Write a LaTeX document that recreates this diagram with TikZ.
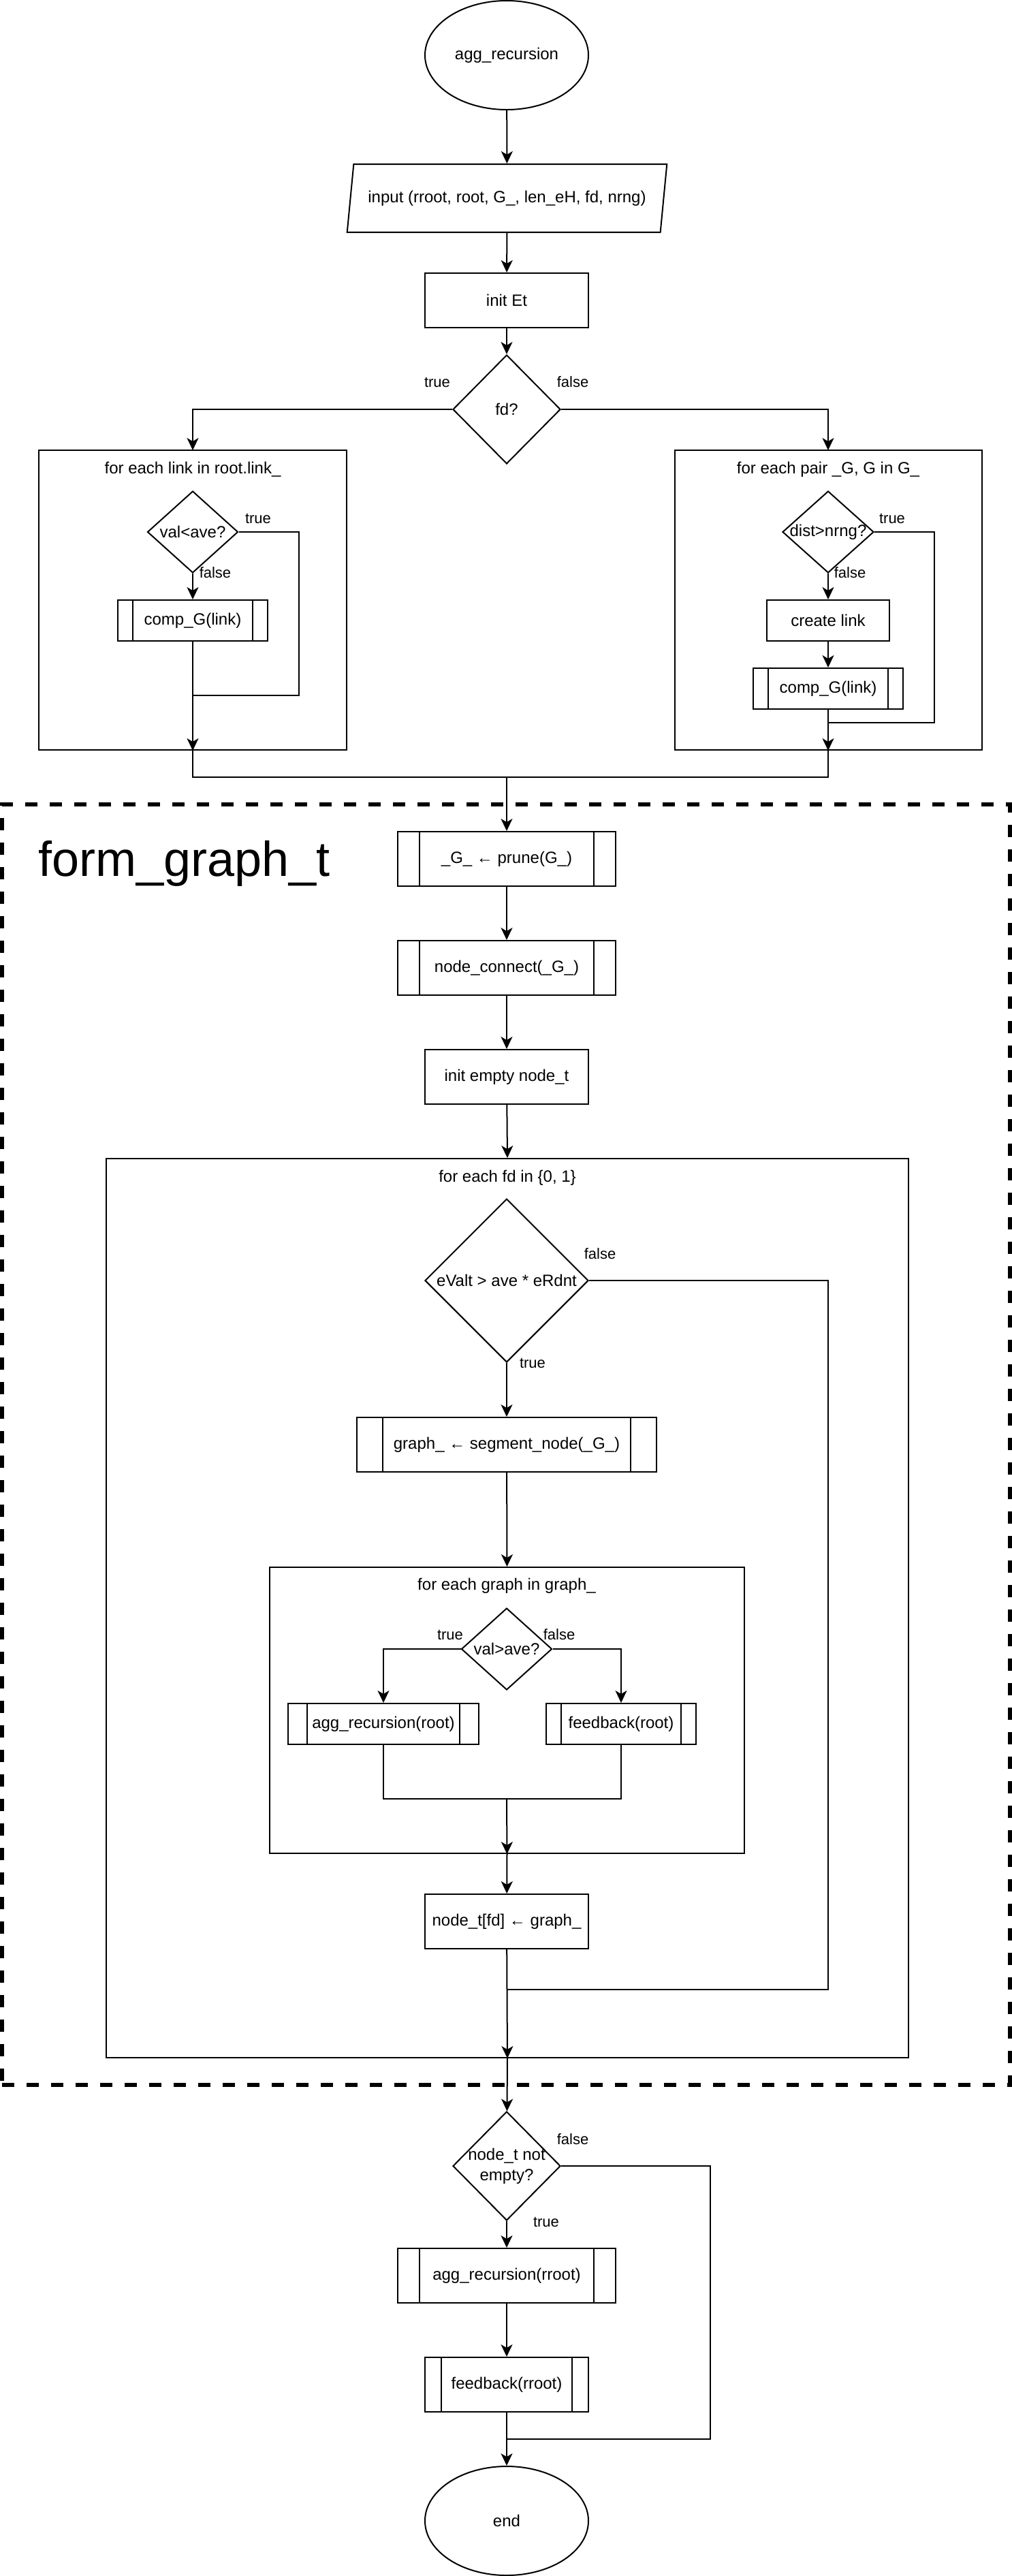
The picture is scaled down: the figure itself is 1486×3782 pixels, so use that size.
\documentclass[tikz,border=0pt]{standalone}
\usepackage{fontspec}
\setmainfont{Liberation Sans}
\usetikzlibrary{shapes.geometric}
\usetikzlibrary{arrows.meta}
\usetikzlibrary{positioning}

\begin{document}
\begin{tikzpicture}[x=0.5pt, y=-0.5pt, line width=1pt,
        >={Stealth[length=9pt,width=8.5pt,inset=2.5pt]},
        font=\fontsize{12}{14}\selectfont,
        box/.style={draw, rectangle, inner sep=0pt},
        subr/.style={box, path picture={
            \draw ([xshift=#1]path picture bounding box.north west) -- ([xshift=#1]path picture bounding box.south west);
            \draw ([xshift=-#1]path picture bounding box.north east) -- ([xshift=-#1]path picture bounding box.south east);}},
        dia/.style={draw, diamond, inner sep=0pt, aspect=1},
        term/.style={draw, ellipse, inner sep=0pt, minimum width=120pt, minimum height=80pt},
        lbl/.style={inner sep=0pt, font=\fontsize{11}{13}\selectfont}]
    \useasboundingbox (0,0) rectangle (1486,3782);

    \node[term] (st) at (744,81) {agg\_recursion};
    \node[draw, trapezium, trapezium left angle=68.7, trapezium right angle=111.3, trapezium stretches, minimum width=235.5pt, minimum height=50pt, inner sep=0pt] (inp) at (744.5,291) {input (rroot, root, G\_, len\_eH, fd, nrng)};
    \node[box, minimum width=120pt, minimum height=40pt] (init) at (744,441) {init Et};
    \node[dia, minimum width=79pt, minimum height=80pt, label={center:fd?}] (fd) at (744,601) {};
    \node[lbl] (t1) at (642,561) {true};
    \node[lbl] (f1) at (841,561) {false};
    \draw[->] (st) -- (inp);
    \draw[->] (inp) -- (init);
    \draw[->] (init) -- (fd);
    \draw[->] (fd.west) -| (283,661);
    \draw[->] (fd.east) -| (1216,661);

    \node[box, minimum width=226pt, minimum height=220pt] (L1) at (283,881) {};
    \node (L1t) at (283,689) {for each link in root.link\_};
    \node[dia, minimum width=66.5pt, minimum height=60pt, label={center:val<ave?}] (c1) at (283,781) {};
    \node[subr=11pt, minimum width=110pt, minimum height=30pt] (b1) at (283,911) {comp\_G(link)};
    \node[lbl] (t2) at (379,761) {true};
    \node[lbl] (f2) at (316,841) {false};
    \coordinate (j1) at (283,1021);
    \draw[->] (c1) -- (b1);
    \draw (c1.east) -- ++(44pt,0) |- (j1);
    \draw[->] (b1) -- (L1.south);

    \node[box, minimum width=225.5pt, minimum height=220pt] (R1) at (1216,881) {};
    \node (R1t) at (1216,689) {for each pair \_G, G in G\_};
    \node[dia, minimum width=67pt, minimum height=60pt, label={center:dist>nrng?}] (c2) at (1216,781) {};
    \node[box, minimum width=90pt, minimum height=30pt] (b2) at (1216,911) {create link};
    \node[subr=11pt, minimum width=110pt, minimum height=30pt] (b3) at (1216,1011) {comp\_G(link)};
    \node[lbl] (t3) at (1310,761) {true};
    \node[lbl] (f3) at (1248,841) {false};
    \coordinate (j2) at (1216,1061);
    \draw[->] (c2) -- (b2);
    \draw[->] (b2) -- (b3);
    \draw (c2.east) -- ++(44pt,0) |- (j2);
    \draw[->] (b3) -- (R1.south);

    \coordinate (m1) at (744,1141);
    \draw (L1.south) |- (m1) -| (R1.south);

    \node[draw, dash pattern=on 9pt off 9pt, line width=3pt, minimum width=740pt, minimum height=940pt, inner sep=0pt] (fg) at (743,2121) {};
    \node[anchor=base west, inner sep=0pt, font=\fontsize{36}{40}\selectfont] (fgt) at (55,1286) {form\_graph\_t};

    \node[subr=16pt, minimum width=160pt, minimum height=40pt] (pr) at (744,1261) {\_G\_ ← prune(G\_)};
    \node[subr=16pt, minimum width=160pt, minimum height=40pt] (nc) at (744,1421) {node\_connect(\_G\_)};
    \node[box, minimum width=120pt, minimum height=40pt] (ie) at (744,1581) {init empty node\_t};
    \draw[->] (m1) -- (pr);
    \draw[->] (pr) -- (nc);
    \draw[->] (nc) -- (ie);

    \node[box, minimum width=589pt, minimum height=660pt] (L3) at (745,2361) {};
    \node (L3t) at (745,1729) {for each fd in \{0, 1\}};
    \draw[->] (ie) -- (L3.north);
    \node[dia, minimum width=120pt, minimum height=120pt, label={center:eValt > ave * eRdnt}] (c3) at (744,1880) {};
    \node[lbl] (f4) at (881,1841) {false};
    \node[lbl] (t4) at (782,2001) {true};
    \node[subr=19pt, minimum width=220pt, minimum height=40pt] (sg) at (744,2121) {graph\_ ← segment\_node(\_G\_)};
    \draw[->] (c3) -- (sg);

    \node[box, minimum width=348.5pt, minimum height=210pt] (L4) at (744.5,2511) {};
    \node (L4t) at (744,2328) {for each graph in graph\_};
    \draw[->] (sg) -- (L4.north);
    \node[dia, minimum width=66.5pt, minimum height=60pt, label={center:val>ave?}] (c4) at (744,2421) {};
    \node[lbl] (t5) at (661,2400) {true};
    \node[lbl] (f5) at (821,2400) {false};
    \node[subr=14pt, minimum width=140pt, minimum height=30pt] (ar) at (563,2531) {agg\_recursion(root)};
    \node[subr=11pt, minimum width=110pt, minimum height=30pt] (fb) at (912,2531) {feedback(root)};
    \coordinate (j4) at (744,2641);
    \draw[->] (c4.west) -| (ar);
    \draw[->] (c4.east) -| (fb);
    \draw (ar) |- (j4) -| (fb);
    \draw[->] (j4) -- (L4.south);

    \node[box, minimum width=120pt, minimum height=40pt] (nt) at (744,2821) {node\_t[fd] ← graph\_};
    \coordinate (j3) at (744,2921);
    \draw[->] (L4.south) -- (nt);
    \draw (c3.east) -- ++(175.5pt,0) |- (j3);
    \draw[->] (nt) -- (L3.south);

    \node[dia, minimum width=79pt, minimum height=80pt, label={[align=center, font=\fontsize{12}{15}\selectfont]center:node\_t not\\empty?}] (c5) at (744,3180) {};
    \node[lbl] (f6) at (841,3141) {false};
    \node[lbl] (t6) at (802,3262) {true};
    \node[subr=16pt, minimum width=160pt, minimum height=40pt] (ra) at (744,3341) {agg\_recursion(rroot)};
    \node[subr=12pt, minimum width=120pt, minimum height=40pt] (fr) at (744,3501) {feedback(rroot)};
    \node[term] (en) at (744,3701) {end};
    \coordinate (j5) at (744,3581);
    \draw[->] (L3.south) -- (c5);
    \draw[->] (c5) -- (ra);
    \draw[->] (ra) -- (fr);
    \draw[->] (fr) -- (en);
    \draw (c5.east) -- ++(109.5pt,0) |- (j5);
\end{tikzpicture}
\end{document}
